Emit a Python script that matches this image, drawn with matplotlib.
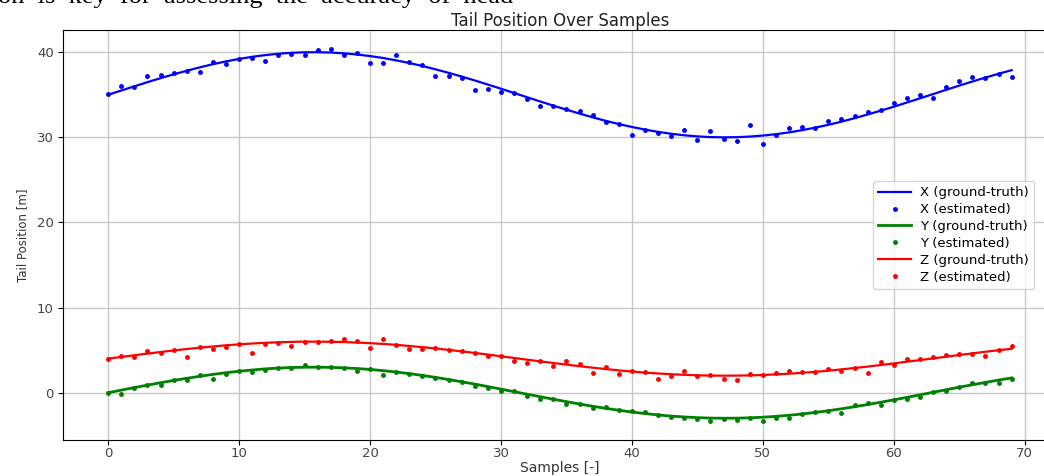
import matplotlib
matplotlib.use("Agg")
import matplotlib.pyplot as plt

samples = list(range(70))

x_truth = [35.00, 35.50, 35.99, 36.48, 36.95, 37.40, 37.82, 38.22, 38.59, 38.92,
           39.21, 39.46, 39.66, 39.82, 39.93, 39.99, 40.00, 39.96, 39.87, 39.73,
           39.55, 39.32, 39.04, 38.73, 38.38, 37.99, 37.58, 37.14, 36.68, 36.20,
           35.71, 35.21, 34.71, 34.21, 33.72, 33.25, 32.79, 32.35, 31.94, 31.56,
           31.22, 30.91, 30.64, 30.42, 30.24, 30.11, 30.03, 30.00, 30.02, 30.09,
           30.21, 30.37, 30.58, 30.84, 31.14, 31.47, 31.84, 32.25, 32.68, 33.13,
           33.60, 34.09, 34.58, 35.08, 35.58, 36.08, 36.56, 37.02, 37.47, 37.89]
x_est = [35.05, 36.00, 35.95, 37.20, 37.35, 37.60, 37.75, 37.65, 38.90, 38.60,
         39.20, 39.30, 39.00, 39.70, 39.80, 39.70, 40.30, 40.40, 39.70, 39.90,
         38.75, 38.70, 39.65, 38.80, 38.50, 37.15, 37.20, 37.00, 35.60, 35.65,
         35.30, 35.20, 34.55, 33.70, 33.70, 33.30, 33.13, 32.60, 31.76, 31.55,
         30.31, 30.85, 30.50, 30.10, 30.90, 29.65, 30.80, 29.76, 29.56, 31.50,
         29.17, 30.30, 31.06, 31.25, 31.15, 31.90, 32.15, 32.47, 32.94, 33.20,
         34.00, 34.60, 34.98, 34.60, 35.90, 36.60, 37.06, 37.00, 37.40, 37.06]

y_truth = [0.00, 0.30, 0.60, 0.89, 1.17, 1.44, 1.69, 1.93, 2.15, 2.35,
           2.52, 2.67, 2.80, 2.89, 2.96, 2.99, 3.00, 2.98, 2.92, 2.84,
           2.73, 2.59, 2.43, 2.24, 2.03, 1.80, 1.55, 1.28, 1.01, 0.72,
           0.42, 0.12, -0.18, -0.47, -0.77, -1.05, -1.33, -1.59, -1.84, -2.06,
           -2.27, -2.45, -2.61, -2.75, -2.85, -2.93, -2.98, -3.00, -2.99, -2.95,
           -2.88, -2.78, -2.65, -2.50, -2.32, -2.12, -1.89, -1.65, -1.39, -1.12,
           -0.84, -0.55, -0.25, 0.05, 0.35, 0.65, 0.93, 1.21, 1.48, 1.74]
y_est = [-0.05, -0.16, 0.60, 0.89, 0.90, 1.48, 1.55, 2.04, 1.65, 2.20,
         2.59, 2.43, 2.67, 2.89, 2.96, 3.29, 3.00, 2.98, 2.90, 2.60,
         2.75, 2.04, 2.40, 2.15, 2.00, 1.72, 1.48, 1.25, 0.78, 0.55,
         0.20, 0.15, -0.33, -0.70, -0.78, -1.30, -1.33, -1.81, -1.73, -2.04,
         -2.12, -2.28, -2.65, -2.90, -2.98, -3.14, -3.29, -3.14, -3.20, -3.00,
         -3.37, -2.98, -2.98, -2.50, -2.30, -2.12, -2.35, -1.49, -1.26, -1.41,
         -0.90, -0.70, -0.47, 0.07, 0.23, 0.70, 1.10, 1.18, 1.10, 1.65]

z_truth = [4.00, 4.20, 4.40, 4.59, 4.78, 4.96, 5.13, 5.29, 5.43, 5.57,
           5.68, 5.78, 5.86, 5.93, 5.97, 6.00, 6.00, 5.98, 5.95, 5.89,
           5.82, 5.73, 5.62, 5.49, 5.35, 5.20, 5.03, 4.85, 4.67, 4.48,
           4.28, 4.08, 3.88, 3.68, 3.49, 3.30, 3.11, 2.94, 2.78, 2.62,
           2.49, 2.36, 2.26, 2.17, 2.10, 2.04, 2.01, 2.00, 2.01, 2.03,
           2.08, 2.15, 2.23, 2.34, 2.45, 2.59, 2.74, 2.90, 3.07, 3.25,
           3.44, 3.64, 3.83, 4.03, 4.23, 4.43, 4.62, 4.81, 4.99, 5.16]
z_est = [4.00, 4.31, 4.25, 4.86, 4.70, 4.96, 4.15, 5.40, 5.10, 5.40,
         5.68, 4.70, 5.68, 5.88, 5.49, 6.00, 6.00, 6.04, 6.27, 6.04,
         5.25, 6.27, 5.62, 5.10, 5.10, 5.20, 5.03, 4.86, 4.62, 4.31,
         4.31, 3.72, 3.45, 3.72, 3.13, 3.68, 3.37, 2.27, 3.06, 2.15,
         2.59, 2.43, 1.65, 1.96, 2.51, 1.96, 2.04, 1.65, 1.49, 2.15,
         2.04, 2.31, 2.59, 2.43, 2.45, 2.74, 2.51, 2.90, 2.35, 3.65,
         3.21, 3.92, 3.92, 4.15, 4.47, 4.55, 4.55, 4.31, 4.99, 5.49]

title = "Tail Position Over Samples"
xlabel = "Samples [-]"
ylabel = "Tail Position [m]"
page_text = "on  is  key  for  assessing  the  accuracy  of  head"

plt.rcParams['font.family'] = ['DejaVu Sans']
fig = plt.figure(figsize=(10.44, 4.76), dpi=100)
ax = fig.add_axes([0.0603, 0.0756, 0.952, 0.861])

ax.plot(samples, x_truth, color='blue', lw=1.6, label='X (ground-truth)')
ax.plot(samples, x_est, '.', color='blue', ms=5, label='X (estimated)')
ax.plot(samples, y_truth, color='green', lw=2.0, label='Y (ground-truth)')
ax.plot(samples, y_est, '.', color='green', ms=5, label='Y (estimated)')
ax.plot(samples, z_truth, color='red', lw=1.6, label='Z (ground-truth)')
ax.plot(samples, z_est, '.', color='red', ms=5, label='Z (estimated)')

ax.set_xlim(-3.45, 72.45)
ax.set_title(title, fontsize=12, color='#222222', pad=2)
ax.set_xlabel(xlabel, fontsize=10, color='#333333', labelpad=1)
ax.set_ylabel(ylabel, fontsize=8.5, color='#333333', labelpad=6)
ax.tick_params(axis='x', labelsize=9.5, labelcolor='#444444', pad=1.5)
ax.tick_params(axis='y', labelsize=9.5, labelcolor='#444444', pad=3)
ax.grid(True, color='#c8c8c8', lw=1.0)
ax.legend(loc='center left', bbox_to_anchor=(0.815, 0.5), borderaxespad=0,
          fontsize=9.5, labelspacing=0.3, handlelength=2.5,
          handletextpad=0.7, framealpha=0.8)

fig.text(-0.002, 1 - 3.0 / 476, page_text,
         family='Liberation Serif', fontsize=19, va='baseline', ha='left')

fig.savefig("out.png", dpi=100)
